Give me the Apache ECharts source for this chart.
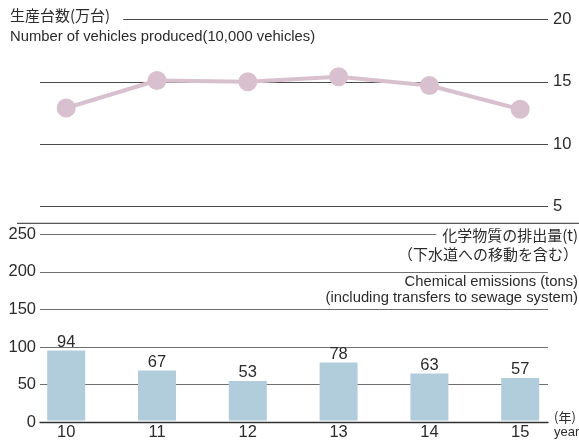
<!DOCTYPE html>
<html>
<head>
<meta charset="utf-8">
<script src="https://cdn.jsdelivr.net/npm/echarts@6/dist/echarts.min.js"></script>
<style>
  html, body { margin: 0; padding: 0; background: #fff; }
  #chart { width: 579px; height: 441px; }
</style>
</head>
<body>
<div id="chart"></div>
<script>
// Fiscal years (two-digit)
const years = ['10', '11', '12', '13', '14', '15'];
// Number of vehicles produced (10,000 vehicles)
const vehiclesProduced = [12.9, 15.1, 15.0, 15.4, 14.7, 12.8];
// Chemical emissions incl. transfers to sewage (tons)
const chemicalEmissions = [94, 67, 53, 78, 63, 57];

const FONT = '"Liberation Sans", Arial, "Noto Sans CJK JP", sans-serif';
const JP_FONT = '"Noto Sans CJK JP", "Liberation Sans", sans-serif';
const TEXT = '#2b2b2b';

// layout of the two panels
const topPanel = { top: 19.3, height: 187.4 };
const botPanel = { top: 234.3, height: 188 };
const ruleBox = { left: 40, width: 508 };        // extent of the horizontal rules
const plotBox = { left: 20.8, width: 544.8 };    // extent of the category bands

const chart = echarts.init(document.getElementById('chart'));

chart.setOption({
  animation: false,
  backgroundColor: '#fff',
  textStyle: { fontFamily: FONT },
  grid: [
    { left: ruleBox.left, width: ruleBox.width, top: topPanel.top, height: topPanel.height },
    { left: plotBox.left, width: plotBox.width, top: topPanel.top, height: topPanel.height },
    { left: ruleBox.left, width: ruleBox.width, top: botPanel.top, height: botPanel.height },
    { left: plotBox.left, width: plotBox.width, top: botPanel.top, height: botPanel.height }
  ],
  xAxis: [
    { gridIndex: 0, type: 'value', show: false },
    { gridIndex: 1, type: 'category', data: years, show: false, boundaryGap: true },
    { gridIndex: 2, type: 'value', min: 0, max: 1,
      axisLine: { show: true, lineStyle: { color: '#333', width: 1.3 } },
      axisTick: { show: false }, axisLabel: { show: false }, splitLine: { show: false } },
    { gridIndex: 3, type: 'category', data: years, boundaryGap: true,
      axisLine: { show: false }, axisTick: { show: false },
      axisLabel: { color: TEXT, fontSize: 16.5, fontFamily: FONT, margin: 4 } }
  ],
  yAxis: [
    { gridIndex: 0, type: 'value', position: 'right', min: 5, max: 20, interval: 5,
      axisLine: { show: false }, axisTick: { show: false },
      axisLabel: { color: TEXT, fontSize: 16.5, fontFamily: FONT, margin: 5 },
      splitLine: { lineStyle: { color: '#4a4a4a', width: 1 } } },
    { gridIndex: 1, type: 'value', min: 5, max: 20, show: false },
    { gridIndex: 2, type: 'value', position: 'left', min: 0, max: 250, interval: 50,
      axisLine: { show: false }, axisTick: { show: false },
      axisLabel: { color: TEXT, fontSize: 16.5, fontFamily: FONT, margin: 4 },
      splitLine: { lineStyle: { color: '#6f6f6f', width: 1 } } },
    { gridIndex: 3, type: 'value', min: 0, max: 250, show: false }
  ],
  series: [
    {
      type: 'line', xAxisIndex: 1, yAxisIndex: 1, data: vehiclesProduced,
      symbol: 'circle', symbolSize: 19,
      lineStyle: { color: '#d9c0ce', width: 4 },
      itemStyle: { color: '#d9c0ce' },
      z: 5
    },
    {
      type: 'bar', xAxisIndex: 3, yAxisIndex: 3, data: chemicalEmissions,
      barWidth: 38,
      itemStyle: { color: '#b1cddb' },
      label: { show: true, position: 'top', distance: 0, color: TEXT, fontSize: 16.5, fontFamily: FONT },
      z: 5
    }
  ],
  graphic: [
    // divider between the two panels
    { type: 'line', shape: { x1: 17, y1: 223.3, x2: 579, y2: 223.3 },
      style: { stroke: '#555', lineWidth: 1.3 }, z: 10 },
    // upper panel heading
    { type: 'text', left: 10, top: 8, z: 10,
      style: { text: '生産台数(万台)', font: '15px ' + JP_FONT, fill: TEXT,
               backgroundColor: '#fff', padding: [0, 13, 0, 0] } },
    { type: 'text', left: 10, top: 30, z: 10,
      style: { text: 'Number of vehicles produced(10,000 vehicles)', font: '14.8px ' + FONT, fill: TEXT } },
    // lower panel heading (right aligned)
    { type: 'text', right: 1, top: 228, z: 10,
      style: { text: '化学物質の排出量(t)', font: '15px ' + JP_FONT, fill: TEXT,
               backgroundColor: '#fff', padding: [0, 0, 0, 6] } },
    { type: 'text', right: 1, top: 247, z: 10,
      style: { text: '（下水道への移動を含む）', font: '15px ' + JP_FONT, fill: TEXT } },
    { type: 'text', right: 1, top: 275, z: 10,
      style: { text: 'Chemical emissions (tons)', font: '14.8px ' + FONT, fill: TEXT } },
    { type: 'text', right: 1, top: 291, z: 10,
      style: { text: '(including transfers to sewage system)', font: '14.8px ' + FONT, fill: TEXT } },
    // category axis unit
    { type: 'text', left: 554, top: 411, z: 10,
      style: { text: '(年)', font: '13px ' + JP_FONT, fill: TEXT } },
    { type: 'text', left: 554, top: 426, z: 10,
      style: { text: 'year', font: '13px ' + FONT, fill: TEXT } }
  ]
});
</script>
</body>
</html>
